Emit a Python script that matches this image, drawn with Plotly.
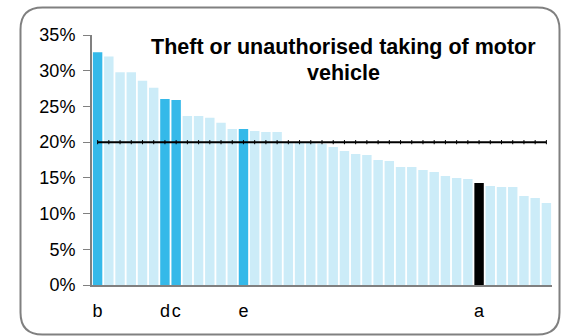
import plotly.graph_objects as go

values = [32.6, 32.0, 29.8, 29.8, 28.6, 27.6, 26.05, 25.9, 23.67, 23.67, 23.4, 22.7,
          21.85, 21.85, 21.57, 21.43, 21.43, 20.0, 19.95, 19.9, 19.79, 19.33, 18.77,
          18.35, 18.2, 17.5, 17.37, 16.53, 16.53, 16.1, 15.83, 15.27, 14.99, 14.85,
          14.29, 13.87, 13.72, 13.72, 12.46, 12.18, 11.48]
labels = {0: "b", 6: "d", 7: "c", 13: "e", 34: "a"}
highlight = [0, 6, 7, 13]
black_idx = [34]
average = 20.0
y_ticks = [0, 5, 10, 15, 20, 25, 30, 35]
title_lines = ["Theft or unauthorised taking of motor", "vehicle"]

x = list(range(len(values)))
colors = []
for i in x:
    if i in black_idx:
        colors.append("#000000")
    elif i in highlight:
        colors.append("#35B9E9")
    else:
        colors.append("#CCECF8")

fig = go.Figure()
fig.add_trace(go.Bar(x=x, y=values, marker=dict(color=colors, line=dict(width=0)),
                     showlegend=False, hoverinfo="skip"))
fig.add_trace(go.Scatter(x=x, y=[average] * len(x), mode="lines+markers",
                         line=dict(color="#000000", width=2),
                         marker=dict(symbol="line-ns", size=3,
                                     line=dict(color="#000000", width=1)),
                         showlegend=False, hoverinfo="skip"))

W, H = 561, 336
plot_left, plot_right, plot_top, plot_bottom = 92, 552, 35, 285
L = plot_left
R = W - plot_right
T = plot_top
B = H - plot_bottom
pw, ph = plot_right - plot_left, plot_bottom - plot_top


def px(v):
    return (v - plot_left) / pw


def py(v):
    return (plot_bottom - v) / ph


x0, x1, y0, y1, r = 20.5, 559.5, 7.5, 334.5, 22
path = (f"M {px(x0 + r)},{py(y0)} L {px(x1 - r)},{py(y0)} "
        f"Q {px(x1)},{py(y0)} {px(x1)},{py(y0 + r)} "
        f"L {px(x1)},{py(y1 - r)} Q {px(x1)},{py(y1)} {px(x1 - r)},{py(y1)} "
        f"L {px(x0 + r)},{py(y1)} Q {px(x0)},{py(y1)} {px(x0)},{py(y1 - r)} "
        f"L {px(x0)},{py(y0 + r)} Q {px(x0)},{py(y0)} {px(x0 + r)},{py(y0)} Z")

annotations = []
for line_text, yc in zip(title_lines, [47, 73]):
    annotations.append(dict(text=f"<b>{line_text}</b>", xref="paper", yref="paper",
                            x=px(343), y=py(yc), xanchor="center", yanchor="middle",
                            showarrow=False, align="center",
                            font=dict(size=21.5, color="#000000")))

fig.update_layout(
    width=W, height=H,
    margin=dict(l=L, r=R, t=T, b=B, autoexpand=False),
    paper_bgcolor="white", plot_bgcolor="white",
    bargap=0.16,
    font=dict(family="Liberation Sans, Arial, sans-serif", size=18, color="#000000"),
    xaxis=dict(range=[-0.5, len(values) - 0.5], tickmode="array",
               tickvals=list(labels.keys()), ticktext=list(labels.values()),
               showgrid=False, zeroline=False, showline=True, linecolor="#808080",
               linewidth=2, ticks="", ticklabelstandoff=8, tickangle=0,
               automargin=False, tickfont=dict(size=18)),
    yaxis=dict(range=[0, 35], tickvals=y_ticks, ticktext=[f"{v}%" for v in y_ticks],
               showgrid=False, zeroline=False, showline=True, linecolor="#808080",
               linewidth=2, ticks="outside", ticklen=7, tickcolor="#808080",
               tickwidth=1, ticklabelstandoff=4, automargin=False,
               tickfont=dict(size=18)),
    shapes=[dict(type="path", xref="paper", yref="paper", path=path,
                 line=dict(color="#808080", width=2), fillcolor="rgba(0,0,0,0)",
                 layer="above")],
    annotations=annotations,
)

fig.write_html("out.html",
               config={"displayModeBar": False},
               post_script="document.body.style.margin='0';document.body.style.overflow='hidden';")
